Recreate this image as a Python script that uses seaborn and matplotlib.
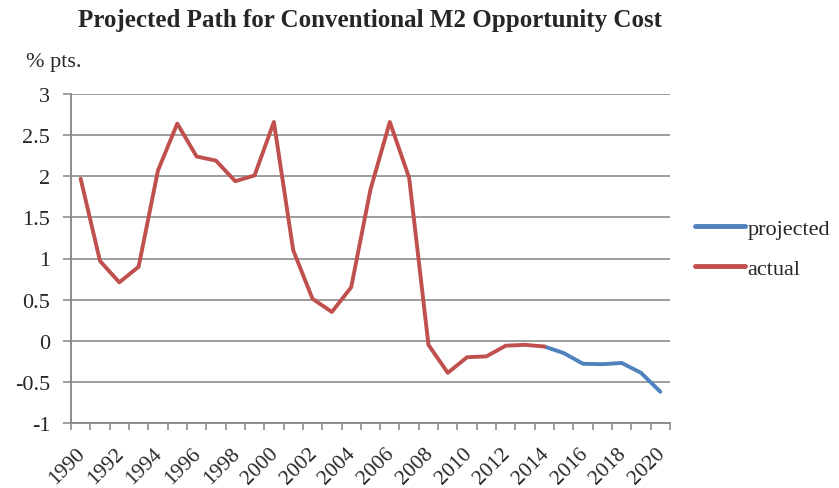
import matplotlib
matplotlib.use("Agg")
import matplotlib.pyplot as plt
import matplotlib.transforms as mtransforms
import numpy as np
import pandas as pd
import seaborn as sns

# Opportunity cost of conventional M2, percentage points
actual_years = list(range(1990, 2015))
actual_values = [1.97, 0.97, 0.71, 0.90, 2.07, 2.64, 2.24, 2.19, 1.94, 2.01,
                 2.66, 1.10, 0.51, 0.35, 0.65, 1.84, 2.66, 1.98, -0.05, -0.39,
                 -0.20, -0.19, -0.06, -0.05, -0.07]
projected_years = list(range(2014, 2021))
projected_values = [-0.07, -0.15, -0.28, -0.285, -0.27, -0.39, -0.62]

y_ticks = [-1, -0.5, 0, 0.5, 1, 1.5, 2, 2.5, 3]
y_tick_labels = ["-1", "-0.5", "0", "0.5", "1", "1.5", "2", "2.5", "3"]
x_label_years = list(range(1990, 2021, 2))

sns.set_theme(style="white")
plt.rcParams["font.family"] = ["Liberation Serif", "DejaVu Serif"]

df = pd.concat([
    pd.DataFrame({"year": projected_years, "value": projected_values, "series": "projected"}),
    pd.DataFrame({"year": actual_years, "value": actual_values, "series": "actual"}),
])

fig = plt.figure(figsize=(8.39, 4.89), dpi=100)
ax = fig.add_axes([71 / 839, 1 - 424 / 489, (670 - 71) / 839, (424 - 95) / 489])

palette = {"projected": "#4F81BD", "actual": "#C0504D"}
sns.lineplot(data=df, x="year", y="value", hue="series", palette=palette,
             hue_order=["projected", "actual"], linewidth=2.8, ax=ax,
             legend=True)

ax.set_xlim(1989.5, 2020.5)
ax.set_ylim(-1, 3)
ax.set_yticks(y_ticks)
ax.set_yticklabels(y_tick_labels)
ax.yaxis.grid(True, color="#8C8C8C", linewidth=1.2)
ax.xaxis.grid(False)
ax.set_axisbelow(True)

ax.set_xticks(x_label_years)
ax.set_xticks(np.arange(1989.5, 2021, 1), minor=True)
ax.tick_params(axis="x", which="major", length=0, pad=15)
ax.tick_params(axis="x", which="minor", bottom=True, length=5, width=1.2,
               color="#8C8C8C", direction="out")
ax.tick_params(axis="y", which="major", left=True, length=6, width=1.2,
               color="#8C8C8C", direction="out", labelsize=16, pad=9)
ax.set_xticklabels([str(y) for y in x_label_years], rotation=45, ha="right",
                   va="top", rotation_mode="anchor", fontsize=15.5)
# nudge the rotated year labels so their ends sit under the category centres
shift = mtransforms.ScaledTranslation(-5 / 100, 0, fig.dpi_scale_trans)
for lbl in ax.get_xticklabels():
    lbl.set_transform(lbl.get_transform() + shift)
ax.set_xlabel("")
ax.set_ylabel("")

for side in ("top", "right"):
    ax.spines[side].set_visible(False)
for side in ("left", "bottom"):
    ax.spines[side].set_color("#8C8C8C")
    ax.spines[side].set_linewidth(1.4)

leg = ax.legend(loc="center left", bbox_to_anchor=(1.042, 0.53), frameon=False,
                fontsize=16, handlelength=2.25, handletextpad=0.1,
                labelspacing=0.85, borderaxespad=0, borderpad=0)
for line in leg.get_lines():
    line.set_linewidth(3.5)

fig.text(370 / 839, 1 - 21 / 489, "Projected Path for Conventional M2 Opportunity Cost",
         ha="center", va="center", fontsize=18, fontweight="bold")
fig.text(26 / 839, 1 - 62 / 489, "% pts.", ha="left", va="center", fontsize=16)

fig.savefig("out.png", dpi=100)
